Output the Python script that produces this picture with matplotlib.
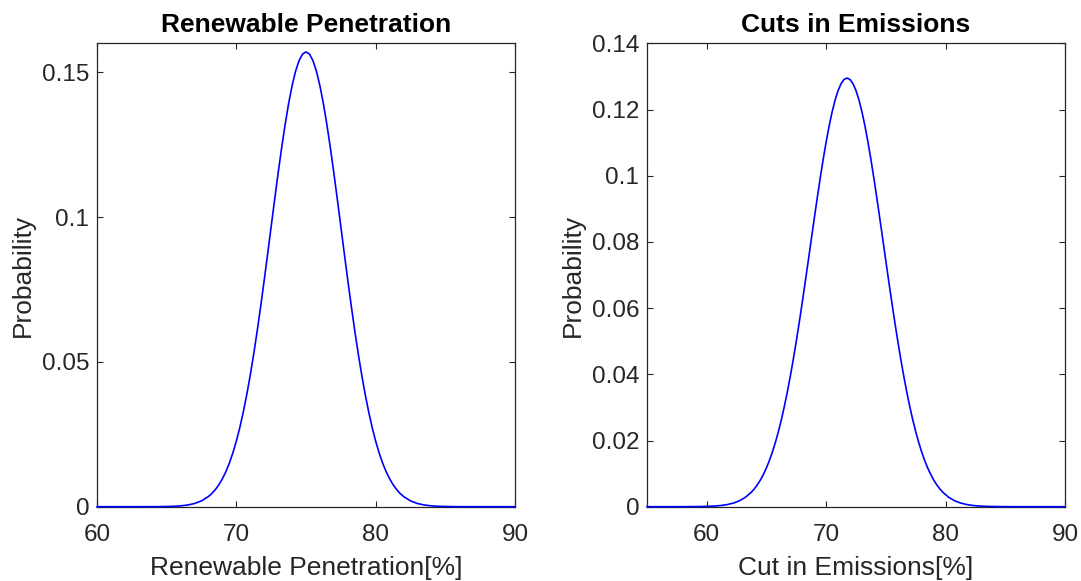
import matplotlib
matplotlib.use("Agg")
import matplotlib.pyplot as plt
from matplotlib.ticker import FuncFormatter, FixedLocator

plt.rcParams['font.family'] = ['Liberation Sans', 'DejaVu Sans']

# ---- Data ----
# Left panel: Renewable Penetration
renew_x = [60, 61, 62, 63, 64, 64.5, 65, 65.5, 66, 66.5, 67, 67.5,
           68, 68.25, 68.5, 68.75, 69, 69.25, 69.5, 69.75, 70, 70.25, 70.5, 70.75,
           71, 71.25, 71.5, 71.75, 72, 72.25, 72.5, 72.75, 73, 73.25, 73.5, 73.75,
           74, 74.25, 74.5, 74.75, 75,
           75.25, 75.5, 75.75, 76, 76.25, 76.5, 76.75, 77, 77.25, 77.5, 77.75,
           78, 78.25, 78.5, 78.75, 79, 79.25, 79.5, 79.75, 80, 80.25, 80.5, 80.75,
           81, 81.25, 81.5, 81.75, 82,
           82.5, 83, 83.5, 84, 84.5, 85, 85.5, 86, 87, 88, 89, 90]
renew_p = [0.0, 0.0, 0.0, 0.0, 0.00001, 0.00003, 0.00007, 0.00014, 0.00029, 0.00058, 0.00110, 0.00201,
           0.00352, 0.00460, 0.00594, 0.00761, 0.00965, 0.01211, 0.01506, 0.01855, 0.02263, 0.02733, 0.03270, 0.03874,
           0.04545, 0.05281, 0.06078, 0.06927, 0.07819, 0.08740, 0.09676, 0.10609, 0.11520, 0.12388, 0.13193, 0.13915,
           0.14535, 0.15036, 0.15405, 0.15630, 0.15706,
           0.15630, 0.15405, 0.15036, 0.14535, 0.13915, 0.13193, 0.12388, 0.11520, 0.10609, 0.09676, 0.08740,
           0.07819, 0.06927, 0.06078, 0.05281, 0.04545, 0.03874, 0.03270, 0.02733, 0.02263, 0.01855, 0.01506, 0.01211,
           0.00965, 0.00761, 0.00594, 0.00460, 0.00352,
           0.00201, 0.00110, 0.00058, 0.00029, 0.00014, 0.00007, 0.00003, 0.00001, 0.0, 0.0, 0.0, 0.0]

# Right panel: Cuts in Emissions
cut_x = [55, 57.75, 58.75, 59.75, 60.25, 60.75, 61.25, 61.75, 62.25, 62.75, 63.25, 63.75,
         64.0, 64.25, 64.5, 64.75, 65.0, 65.25, 65.5, 65.75, 66.0, 66.25, 66.5, 66.75,
         67.0, 67.25, 67.5, 67.75, 68.0, 68.25, 68.5, 68.75, 69.0, 69.25, 69.5, 69.75,
         70.0, 70.25, 70.5, 70.75, 71.0, 71.25, 71.5, 71.75,
         72.0, 72.25, 72.5, 72.75, 73.0, 73.25, 73.5, 73.75, 74.0, 74.25, 74.5, 74.75,
         75.0, 75.25, 75.5, 75.75, 76.0, 76.25, 76.5, 76.75, 77.0, 77.25, 77.5, 77.75,
         78.0, 78.25, 78.5, 78.75, 79.0, 79.25, 79.5,
         79.75, 80.25, 80.75, 81.25, 81.75, 82.25, 82.75, 83.25, 83.75, 84.75, 85.75, 90]
cut_p = [0.0, 0.0, 0.00002, 0.00007, 0.00012, 0.00022, 0.00039, 0.00067, 0.00111, 0.00181, 0.00287, 0.00444,
         0.00546, 0.00668, 0.00811, 0.00979, 0.01173, 0.01397, 0.01653, 0.01942, 0.02268, 0.02630, 0.03030, 0.03468,
         0.03944, 0.04455, 0.04999, 0.05573, 0.06173, 0.06791, 0.07423, 0.08060, 0.08695, 0.09318, 0.09919, 0.10491,
         0.11022, 0.11505, 0.11929, 0.12288, 0.12575, 0.12783, 0.12910, 0.12953,
         0.12910, 0.12783, 0.12575, 0.12288, 0.11929, 0.11505, 0.11022, 0.10491, 0.09919, 0.09318, 0.08695, 0.08060,
         0.07423, 0.06791, 0.06173, 0.05573, 0.04999, 0.04455, 0.03944, 0.03468, 0.03030, 0.02630, 0.02268, 0.01942,
         0.01653, 0.01397, 0.01173, 0.00979, 0.00811, 0.00668, 0.00546,
         0.00444, 0.00287, 0.00181, 0.00111, 0.00067, 0.00039, 0.00022, 0.00012, 0.00007, 0.00002, 0.0, 0.0]

panels = [
    dict(x=renew_x, y=renew_p, title="Renewable Penetration", xlabel="Renewable Penetration[%]",
         xlim=(60, 90), ylim=(0, 0.16), xticks=[60, 70, 80, 90], yticks=[0, 0.05, 0.1, 0.15]),
    dict(x=cut_x, y=cut_p, title="Cuts in Emissions", xlabel="Cut in Emissions[%]",
         xlim=(55, 90), ylim=(0, 0.14), xticks=[60, 70, 80, 90],
         yticks=[0, 0.02, 0.04, 0.06, 0.08, 0.1, 0.12, 0.14]),
]

fig = plt.figure(figsize=(10.81, 5.81), dpi=100)
positions = [[97 / 1081, 1 - 506.7 / 581, 418 / 1081, (506.7 - 43.4) / 581],
             [647 / 1081, 1 - 506.7 / 581, 418 / 1081, (506.7 - 43.4) / 581]]
axcol = '#262626'

for pos, p in zip(positions, panels):
    ax = fig.add_axes(pos)
    ax.plot(p['x'], p['y'], color='#0000ff', lw=1.2, zorder=3, clip_on=False)
    ax.set_xlim(*p['xlim'])
    ax.set_ylim(*p['ylim'])
    ax.xaxis.set_major_locator(FixedLocator(p['xticks']))
    ax.yaxis.set_major_locator(FixedLocator(p['yticks']))
    ax.yaxis.set_major_formatter(FuncFormatter(lambda v, pos: f"{v:g}"))
    ax.xaxis.set_major_formatter(FuncFormatter(lambda v, pos: f"{v:g}"))
    ax.tick_params(axis='both', which='both', direction='in', top=True, right=True,
                   length=4, width=0.8, color=axcol, labelcolor=axcol, labelsize=17.5)
    ax.tick_params(axis='x', pad=12.5)
    ax.tick_params(axis='y', pad=5.5)
    for s in ax.spines.values():
        s.set_color(axcol)
        s.set_linewidth(0.9)
    ax.set_title(p['title'], fontsize=19, fontweight='bold', color='black', pad=8.5)
    ax.set_xlabel(p['xlabel'], fontsize=19, color=axcol, labelpad=7)
    ax.set_ylabel("Probability", fontsize=19, color=axcol, labelpad=5)

fig.savefig("out.png", dpi=100, facecolor='white')
